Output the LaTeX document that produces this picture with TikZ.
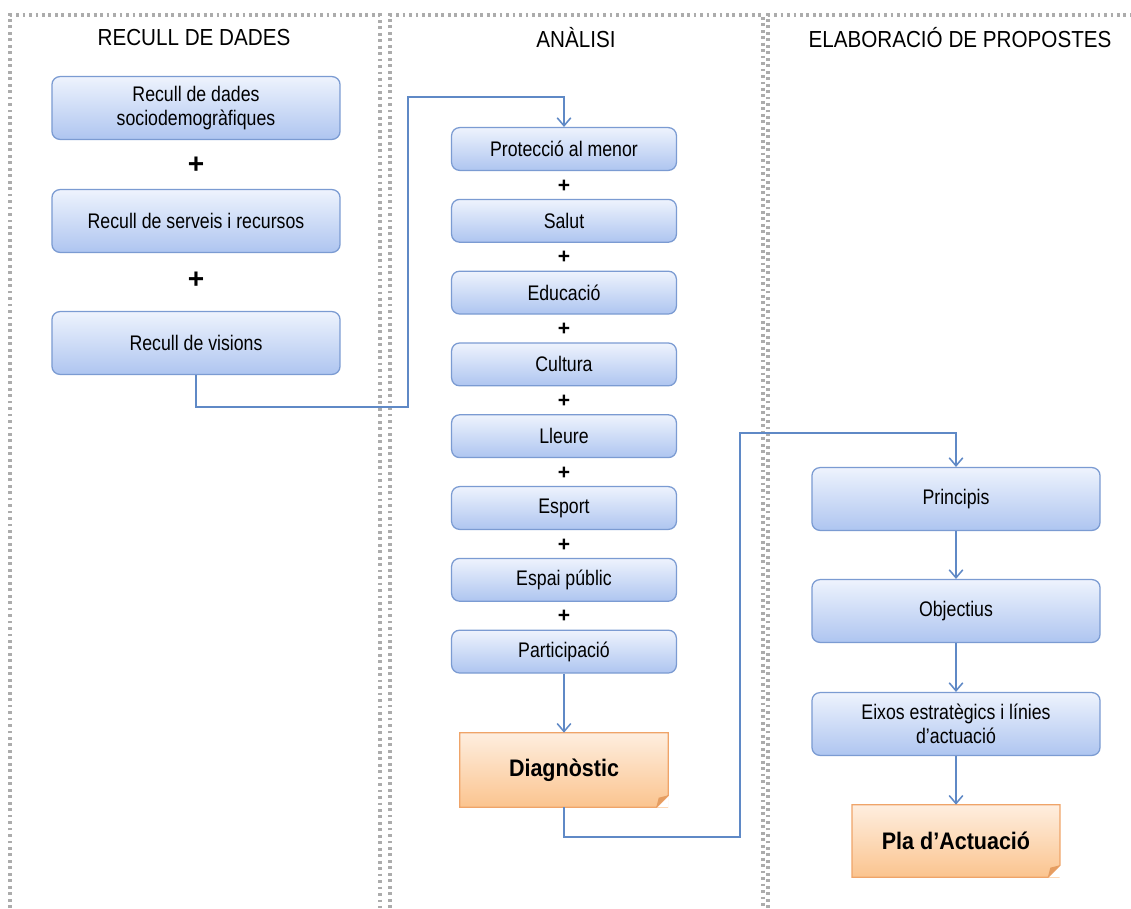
\documentclass[tikz,border=0pt]{standalone}
\usepackage{fontspec}
\setmainfont{Liberation Sans}
\usetikzlibrary{positioning, arrows.meta, calc}
\definecolor{boxtop}{HTML}{EEF3FD}
\definecolor{boxbot}{HTML}{AEC5F0}
\definecolor{boxline}{HTML}{7B9BD2}
\definecolor{notetop}{HTML}{FEEEDF}
\definecolor{notebot}{HTML}{FBC48F}
\definecolor{noteline}{HTML}{EFA469}
\definecolor{linkblue}{HTML}{5F89C6}

\begin{document}
\begin{tikzpicture}[x=0.025cm, y=-0.025cm,
    column line/.style={draw=gray!65, line width=2.4pt, dash pattern=on 2pt off 2.6pt},
    column title/.style={font=\fontsize{16.5}{18}\selectfont\addfontfeatures{FakeStretch=0.89}},
    every stage/.style={rectangle, rounded corners=2mm, draw=boxline, line width=0.9pt, top color=boxtop, bottom color=boxbot, inner sep=0pt, align=center, font=\fontsize{15}{17}\selectfont\addfontfeatures{FakeStretch=0.84}},
    wide stage/.style={every stage, minimum width=7.2cm, minimum height=1.57cm},
    area stage/.style={every stage, minimum width=5.62cm, minimum height=1.07cm},
    every result/.style={rectangle, top color=notetop, bottom color=notebot, inner sep=0pt, font=\fontsize{17}{19}\selectfont\bfseries\addfontfeatures{FakeStretch=0.9}},
    big plus/.style={font=\fontsize{20}{20}\selectfont\bfseries},
    small plus/.style={font=\fontsize{15}{15}\selectfont\bfseries},
    link/.style={draw=linkblue, line width=1.1pt, -{Straight Barb[length=2mm, width=3.4mm]}}]

    \useasboundingbox (0,0) rectangle (1131,908);

    % Dotted columns
    \draw[column line] (10,908) -- (10,15) -- (380,15) -- (380,908);
    \draw[column line] (390,908) -- (390,15) -- (763,15) -- (763,908);
    \draw[column line] (768,908) -- (768,15) -- (1131,15);

    % Column titles
    \node[column title] (T-dades) at (194,38) {RECULL DE DADES};
    \node[column title] (T-analisi) at (576,38) {ANÀLISI};
    \node[column title] (T-propostes) at (960,38) {ELABORACIÓ DE PROPOSTES};

    % Left column - data collection
    \node[wide stage] (R-1) at (196,108) {Recull de dades\\sociodemogràfiques};
    \node[wide stage] (R-2) at (196,221) {Recull de serveis i recursos};
    \node[wide stage] (R-3) at (196,343) {Recull de visions};
    \node[big plus] (RP-1) at (196,165) {+};
    \node[big plus] (RP-2) at (196,280) {+};

    % Middle column - analysis areas
    \foreach \name [count=\i from 0] in {Protecció al menor, Salut, Educació, Cultura, Lleure, Esport, Espai públic, Participació}
        \node[area stage] (A-\i) at (564,149+71.8*\i) {\name};
    \foreach \i in {0,...,6}
        \node[small plus] (AP-\i) at (564,186+71.8*\i) {+};

    % Diagnostic note
    \node[every result, minimum width=5.2cm, minimum height=1.85cm] (diag) at (564,770) {Diagnòstic};

    % Right column - proposals
    \node[wide stage] (P-1) at (956,499) {Principis};
    \node[wide stage] (P-2) at (956,611) {Objectius};
    \node[wide stage] (P-3) at (956,724) {Eixos estratègics i línies\\d'actuació};

    % Action plan note
    \node[every result, minimum width=5.18cm, minimum height=1.8cm] (pla) at (956,841) {Pla d'Actuació};

    % Folded corners of the notes
    \foreach \n in {diag, pla} {
        \fill[white] ([xshift=-0.3cm]\n.south east) -- (\n.south east) -- ([yshift=0.3cm]\n.south east) -- cycle;
        \draw[noteline, line width=0.9pt] (\n.north west) -- (\n.north east) -- ([yshift=0.3cm]\n.south east) -- ([xshift=-0.3cm]\n.south east) -- (\n.south west) -- cycle;
        \fill[noteline!80!brown] ([yshift=0.3cm]\n.south east) -- ([xshift=-0.3cm]\n.south east) -- ([xshift=-0.24cm, yshift=0.24cm]\n.south east) -- cycle;
    }

    % Connections
    \coordinate (bend-1) at (408,407);
    \coordinate (bend-2) at (408,97);
    \draw[link] (R-3.south) |- (bend-1) -- (bend-2) -| (A-0.north);

    \draw[link] (A-7.south) -- (diag.north);

    \coordinate (bend-3) at (740,837);
    \coordinate (bend-4) at (740,433);
    \draw[link] (diag.south) |- (bend-3) -- (bend-4) -| (P-1.north);

    \draw[link] (P-1.south) -- (P-2.north);
    \draw[link] (P-2.south) -- (P-3.north);
    \draw[link] (P-3.south) -- (pla.north);

\end{tikzpicture}
\end{document}
